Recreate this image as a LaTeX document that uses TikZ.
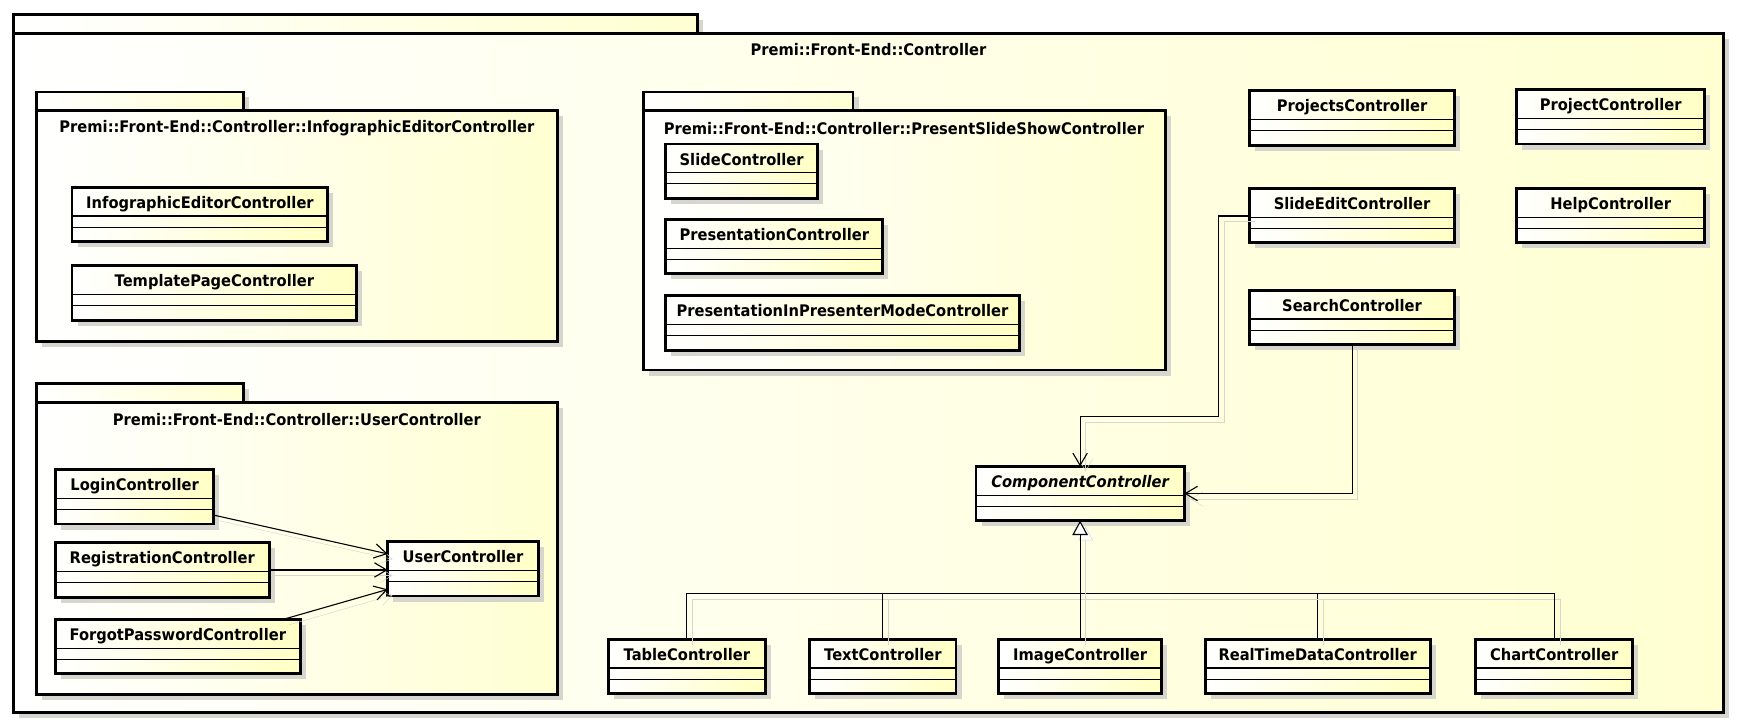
\documentclass[tikz,border=0pt]{standalone}
\usepackage{fontspec}
\setmainfont{DejaVu Sans}[FakeStretch=0.92]
\usepackage{xcolor}
\usepackage{tikz}
\usetikzlibrary{arrows.meta,shadows}

\definecolor{umlyellow}{RGB}{255,255,196}
\definecolor{pkgyellow}{RGB}{255,255,210}
\definecolor{shadowgray}{RGB}{214,214,206}

\begin{document}
\begin{tikzpicture}[x=1pt,y=-1pt,
        font=\fontsize{14.4}{17}\selectfont\bfseries,
        boxshadow/.style={drop shadow={shadow xshift=5pt,shadow yshift=-5pt,fill=shadowgray,opacity=1}},
        pkg/.style={draw,line width=2.6pt,left color=white,right color=pkgyellow,boxshadow},
        pkgtitle/.style={inner sep=0pt},
        cls/.style={draw,line width=2.6pt,left color=white,right color=umlyellow,boxshadow,
            anchor=north west,inner sep=0pt,outer sep=0pt,minimum height=49pt,
            text height=19pt,text depth=30pt},
        conn/.style={line width=1pt,preaction={draw=shadowgray,transform canvas={shift={(5pt,-5pt)}}}},
        dep/.style={conn,-{Straight Barb[length=11pt,width=13pt]}},
        gen/.style={conn,-{Triangle[length=13pt,width=14pt,fill=white]}}]
        \useasboundingbox (0,0) rectangle (1568,657);

        % Outer package.
        \draw[pkg] (12,13) rectangle (630,30);
        \draw[pkg] (12,30) rectangle (1556,643);
        \node[pkgtitle] (ctlTitle) at (784,45) {Premi::Front-End::Controller};

        % Inner packages.
        \draw[pkg] (33,83) rectangle (220,100);
        \draw[pkg] (33,100) rectangle (503,308);
        \node[pkgtitle] (infoTitle) at (268,116) {Premi::Front-End::Controller::InfographicEditorController};
        \draw[pkg] (581,83) rectangle (770,100);
        \draw[pkg] (581,100) rectangle (1052,334);
        \node[pkgtitle] (showTitle) at (816,116) {Premi::Front-End::Controller::PresentSlideShowController};
        \draw[pkg] (33,346) rectangle (220,363);
        \draw[pkg] (33,363) rectangle (503,627);
        \node[pkgtitle] (userTitle) at (268,379) {Premi::Front-End::Controller::UserController};

        % Classes.
        \node[cls,minimum width=231pt] (infoEditor) at (65,169) {InfographicEditorController};
        \node[cls,minimum width=257pt] (templatePage) at (65,240) {TemplatePageController};
        \node[cls,minimum width=137pt] (slide) at (601,130) {SlideController};
        \node[cls,minimum width=196pt] (presentation) at (601,198) {PresentationController};
        \node[cls,minimum width=319pt] (presenterMode) at (601,267) {PresentationInPresenterModeController};
        \node[cls,minimum width=143pt] (login) at (50,424) {LoginController};
        \node[cls,minimum width=193pt] (registration) at (50,490) {RegistrationController};
        \node[cls,minimum width=221pt] (forgot) at (50,559) {ForgotPasswordController};
        \node[cls,minimum width=136pt] (user) at (350,489) {UserController};
        \node[cls,minimum width=185pt] (projects) at (1128,82) {ProjectsController};
        \node[cls,minimum width=170pt] (project) at (1369,81) {ProjectController};
        \node[cls,minimum width=185pt] (slideEdit) at (1128,170) {SlideEditController};
        \node[cls,minimum width=170pt] (help) at (1369,170) {HelpController};
        \node[cls,minimum width=185pt] (search) at (1128,262) {SearchController};
        \node[cls,minimum width=188pt] (component) at (881,421) {\itshape ComponentController};
        \node[cls,minimum width=142pt] (tableCtl) at (549,577) {TableController};
        \node[cls,minimum width=132pt] (textCtl) at (731,577) {TextController};
        \node[cls,minimum width=147pt] (imageCtl) at (901.5,577) {ImageController};
        \node[cls,minimum width=203pt] (realTimeCtl) at (1088,577) {RealTimeDataController};
        \node[cls,minimum width=142pt] (chartCtl) at (1332,577) {ChartController};

        % Compartments.
        \foreach \c in {infoEditor,templatePage,slide,presentation,presenterMode,login,registration,
                forgot,user,projects,project,slideEdit,help,search,component,tableCtl,textCtl,
                imageCtl,realTimeCtl,chartCtl} {
            \draw[line width=1pt] ([yshift=-26pt]\c.north west) -- ([yshift=-26pt]\c.north east);
            \draw[line width=1pt] ([yshift=-36pt]\c.north west) -- ([yshift=-36pt]\c.north east);
        }

        % Connections.
        \draw[dep] ([yshift=8pt]login.south east) -- ([yshift=-11pt]user.north west);
        \draw[dep] (registration.east) -- (registration.east -| user.west);
        \draw[dep] ([xshift=-15pt]forgot.north east) -- ([yshift=6pt]user.south west);
        \coordinate (bendEdit) at (1100,376);
        \draw[dep] ([yshift=-25pt]slideEdit.north west) -| (bendEdit) -| (component.north);
        \draw[dep] (search.south) |- (component.east);
        \coordinate (genBus) at (component.south |- 0,536);
        \foreach \c in {tableCtl,textCtl,imageCtl,realTimeCtl,chartCtl}
            \draw[conn] (\c.north) |- (genBus);
        \draw[gen] (genBus) -- (component.south);
    \end{tikzpicture}
\end{document}
